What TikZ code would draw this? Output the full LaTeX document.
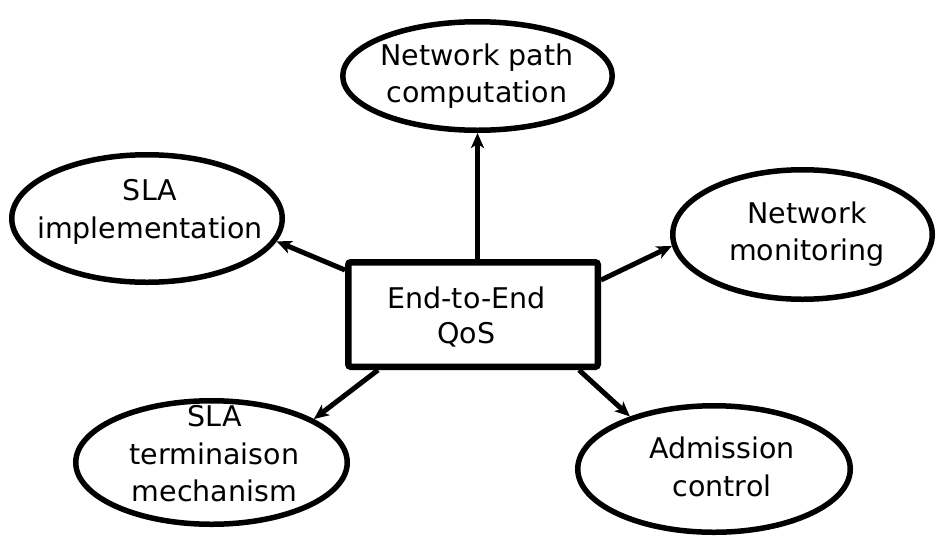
\documentclass[tikz,border=0pt]{standalone}
\usepackage{fontspec}
\setmainfont{DejaVu Sans}
\usetikzlibrary{shapes.geometric,arrows.meta,calc}
\begin{document}
\begin{tikzpicture}[x=1pt,y=-1pt,
  bubble/.style={ellipse, draw, line width=5.5pt, inner sep=0pt},
  hub/.style={rectangle, draw, line width=6.5pt, rounded corners=2.5pt, inner sep=0pt,
    minimum width=249.5pt, minimum height=104.5pt},
  lbl/.style={align=center, inner sep=0pt, font=\fontsize{28.5}{37.5}\selectfont},
  hublbl/.style={align=center, inner sep=0pt, font=\fontsize{28.5}{35}\selectfont},
  link/.style={line width=5pt, -{Stealth[length=15pt,width=13pt,inset=4pt]}}]
\useasboundingbox (0,0) rectangle (936,536);

% central box
\node[hub] (qos) at (473,314.5) {};
\node[hublbl] (qosT) at (466.5,317.5) {End-to-End\\QoS};

% surrounding topics
\node[bubble, minimum width=269.5pt, minimum height=108.5pt] (net) at (477.5,76) {};
\node[lbl] (netT) at (477,76) {Network path\\computation};

\node[bubble, minimum width=270.5pt, minimum height=127.5pt] (sla) at (147,218.5) {};
\node[lbl] (slaT) at (150,212) {SLA\\implementation};

\node[bubble, minimum width=259.5pt, minimum height=129.5pt] (mon) at (802.5,234.5) {};
\node[lbl] (monT) at (807,234) {Network\\monitoring};

\node[bubble, minimum width=271.5pt, minimum height=123.5pt] (term) at (211.5,462.5) {};
\node[lbl] (termT) at (214.5,454) {SLA\\terminaison\\mechanism};

\node[bubble, minimum width=272.5pt, minimum height=126.5pt] (adm) at (714,469) {};
\node[lbl] (admT) at (722,467) {Admission\\control};

% connectors
\draw[link] (qos.north -| net.south) -- (net.south);
\draw[link] ($(qos.north west)+(0,11)$) -- (sla.-10);
\draw[link] ($(qos.north east)+(0,21)$) -- (mon.185);
\draw[link] ($(qos.south west)+(33,0)$) -- (term.23);
\draw[link] ($(qos.south east)+(-22,0)$) -- (adm.148);
\end{tikzpicture}
\end{document}
